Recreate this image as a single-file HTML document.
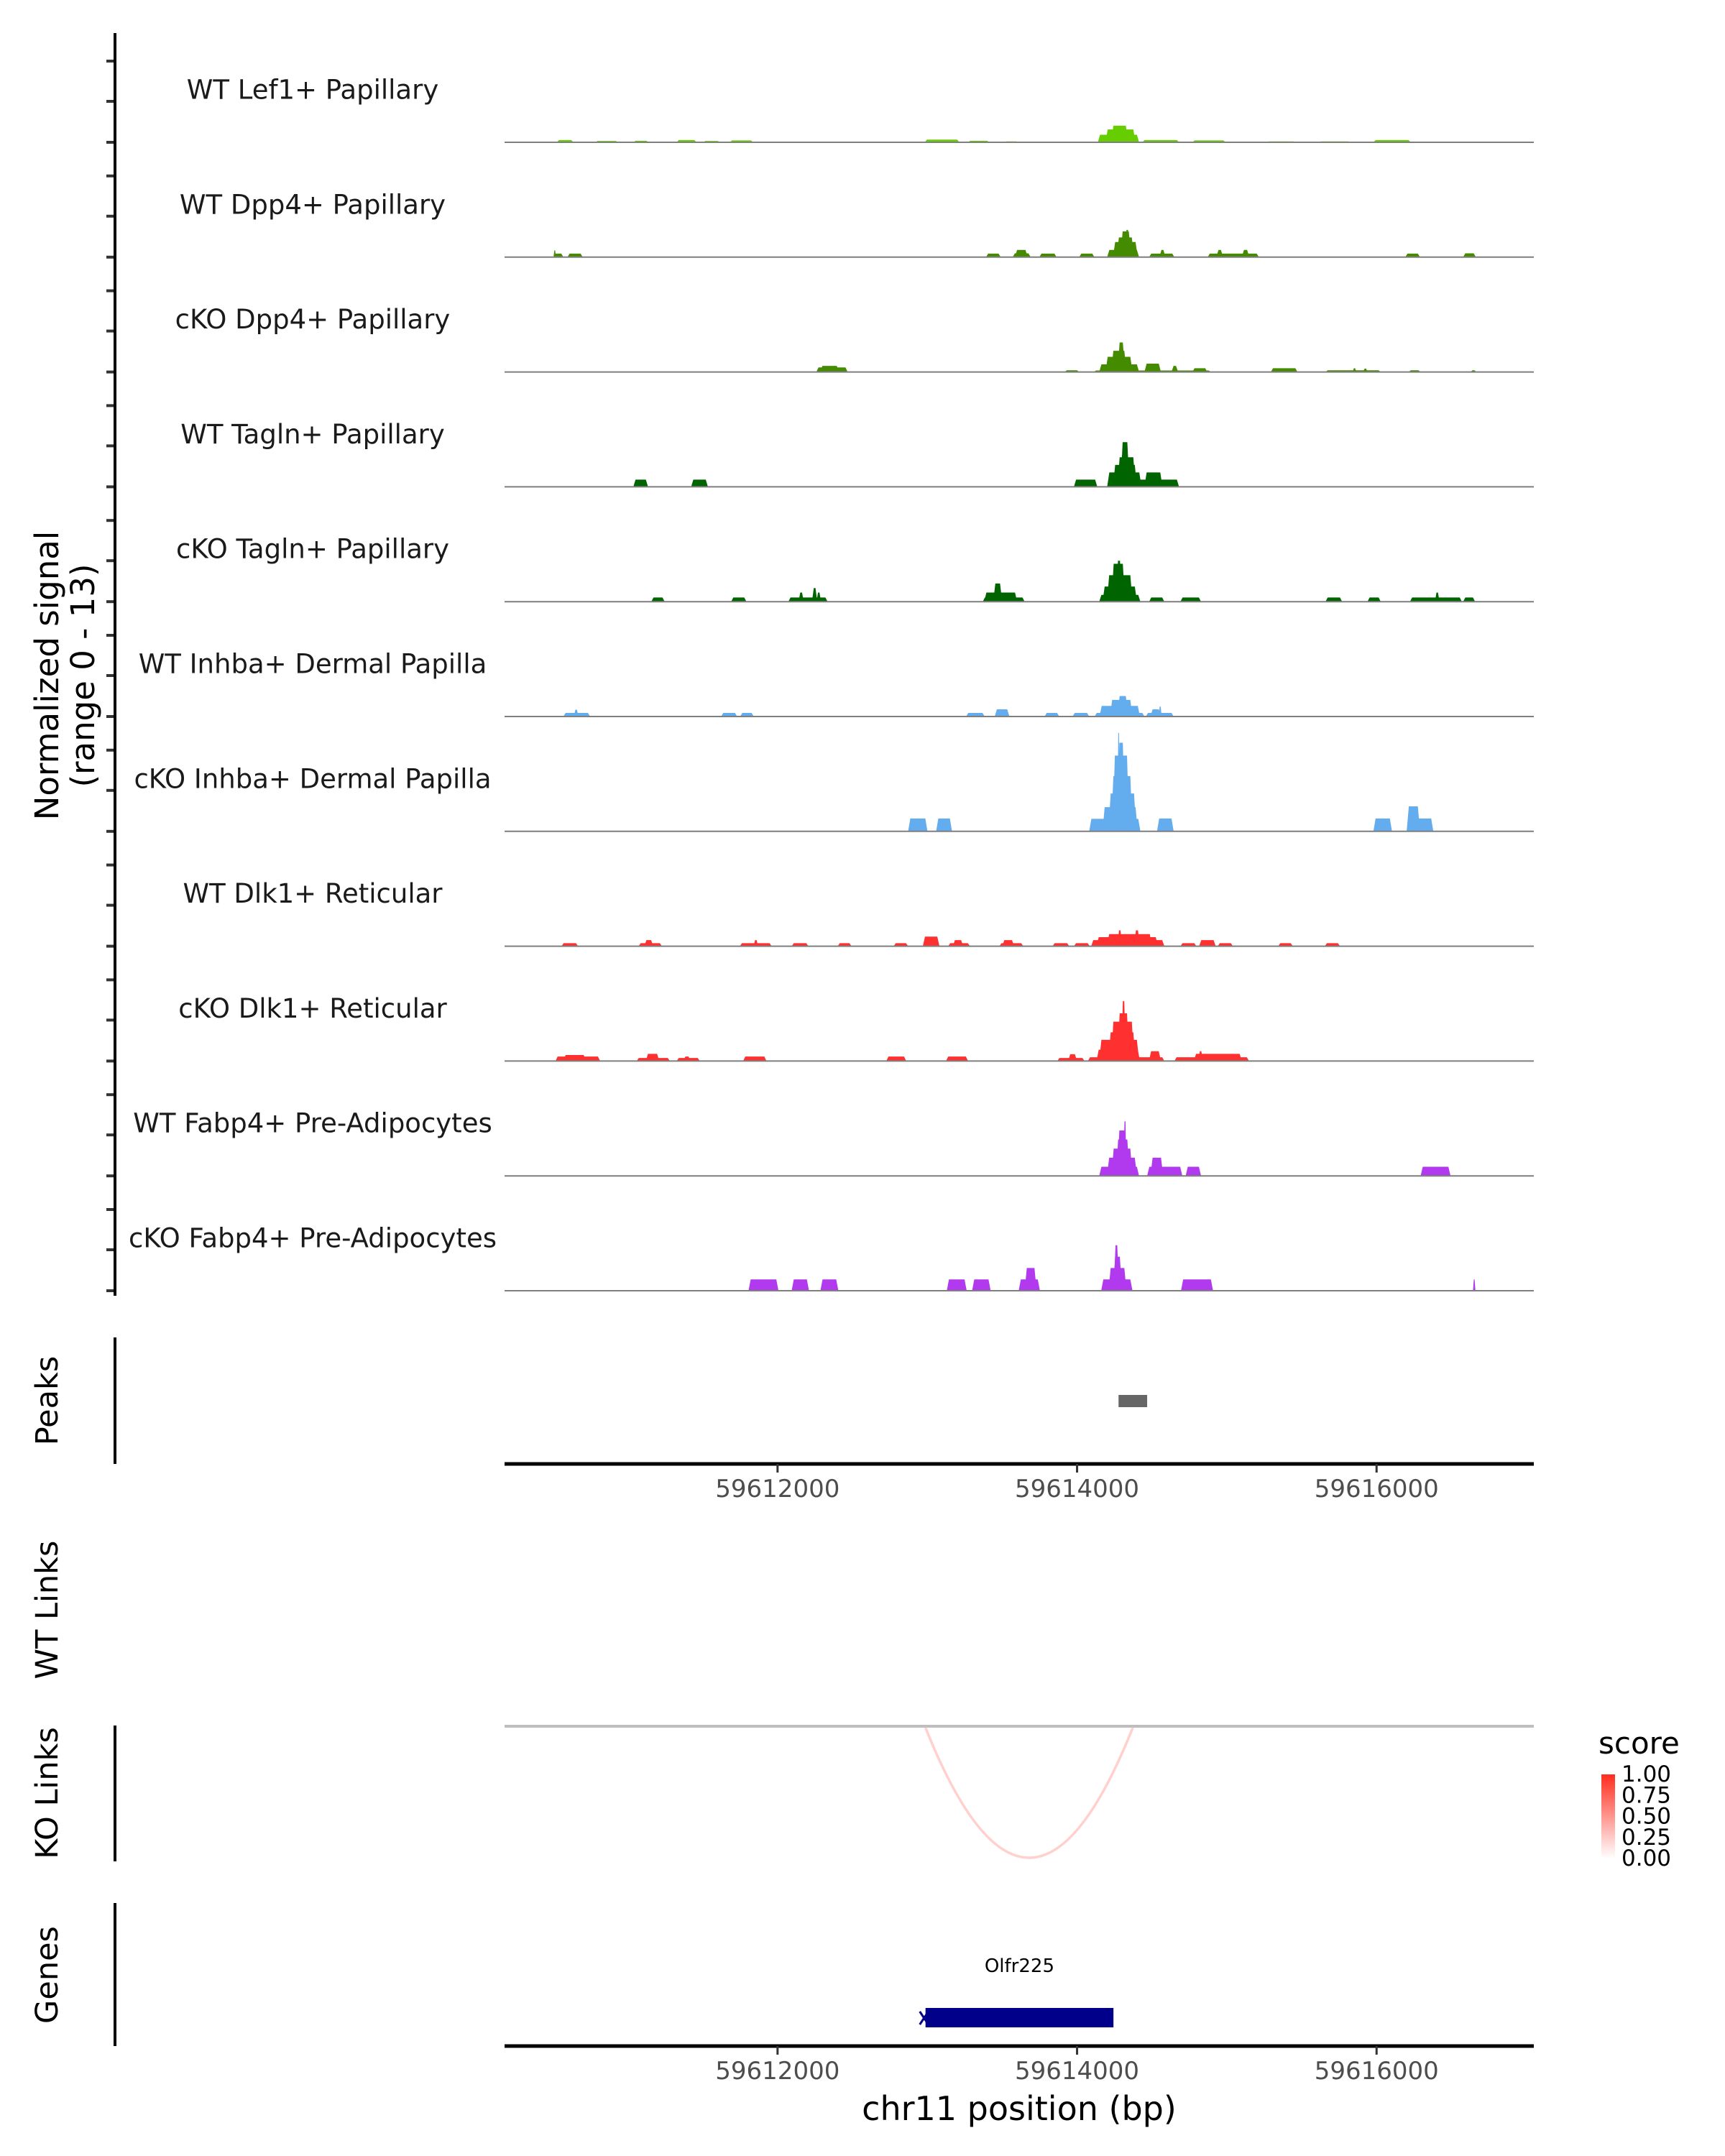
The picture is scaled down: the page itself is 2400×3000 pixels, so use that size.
<!DOCTYPE html>
<html><head><meta charset="utf-8"><style>
html,body{margin:0;padding:0;background:#fff;}
svg{display:block;font-family:"DejaVu Sans","Liberation Sans",sans-serif;}
</style></head><body>
<svg id="chart" xmlns="http://www.w3.org/2000/svg" width="2400" height="3000" viewBox="0 0 2400 3000">
<rect x="0" y="0" width="2400" height="3000" fill="#fff"/>
<g id="tracks"></g>
<g id="axes"></g>
</svg>
<script>
// ---- data (genomic positions are offsets from chromOffset, in bp) ----
const chromOffset = 59610000;
const regionStart = 177, regionEnd = 7050;
const xTicks = [59612000, 59614000, 59616000];
const trackNames = ["WT Lef1+ Papillary","WT Dpp4+ Papillary","cKO Dpp4+ Papillary","WT Tagln+ Papillary","cKO Tagln+ Papillary","WT Inhba+ Dermal Papilla","cKO Inhba+ Dermal Papilla","WT Dlk1+ Reticular","cKO Dlk1+ Reticular","WT Fabp4+ Pre-Adipocytes","cKO Fabp4+ Pre-Adipocytes"];
const trackColors = ["#66cd00","#458b00","#458b00","#006400","#006400","#63acee","#63acee","#ff3030","#ff3030","#b23aee","#b23aee"];
const signalMax = 13;
const wtLef1 = [[526,637,.3],[783,935,.18],[1037,1139,.2],[1326,1459,.3],[1503,1615,.18],[1681,1837,.25],[1895,2214,.1],[2237,2512,.1],[2983,3214,.35],[3272,3414,.2],[3512,3610,.12],[4059,4139,.1],[4139,4414,1.0],[4190,4390,1.7],[4228,4340,2.2],[4436,4681,.3],[4770,4992,.25],[5112,5236,.1],[5267,5459,.12],[5614,5827,.12],[5979,6228,.3],[6290,6392,.1],[6530,6627,.1]];
const wtDpp4 = [[504,570,.47],[504,520,.9],[597,699,.47],[3392,3490,.47],[3570,3690,.5],[3585,3670,.95],[3748,3863,.47],[4014,4116,.47],[4201,4414,.95],[4240,4405,2.0],[4265,4380,2.6],[4290,4360,3.4],[4320,4350,3.6],[4481,4650,.47],[4550,4590,.95],[4872,5214,.47],[4930,4975,.95],[5100,5150,.95],[6192,6290,.47],[6578,6663,.5]];
const ckoDpp4 = [[2259,2468,.6],[2285,2410,.8],[3917,4014,.22],[4112,4894,.2],[4148,4414,1.0],[4190,4370,2.0],[4228,4330,2.8],[4270,4320,3.9],[4450,4560,1.1],[4630,4675,.8],[4770,4870,.5],[5294,5472,.5],[5659,6028,.22],[5840,5865,.5],[5910,5940,.45],[6214,6294,.22],[6627,6667,.22]];
const wtTagln = [[1037,1135,.95],[1423,1535,.95],[3979,4135,.95],[4201,4681,.95],[4201,4430,1.9],[4240,4400,2.9],[4270,4390,3.9],[4290,4350,5.9],[4450,4570,1.9]];
const ckoTagln = [[1157,1246,.55],[1690,1792,.55],[2072,2334,.55],[2140,2175,1.2],[2230,2265,1.8],[2260,2290,1.2],[3370,3650,.55],[3380,3600,1.2],[3440,3500,2.4],[4148,4423,.9],[4170,4400,2.0],[4200,4370,3.5],[4230,4320,5.0],[4260,4300,5.4],[4481,4583,.55],[4690,4828,.55],[5659,5770,.55],[5939,6028,.55],[6223,6570,.55],[6390,6420,1.2],[6578,6658,.55]];
const wtInhba = [[570,748,.47],[640,670,.9],[1623,1730,.47],[1750,1841,.47],[3259,3383,.47],[3450,3548,.95],[3783,3881,.47],[3970,4081,.47],[4117,4450,.47],[4150,4420,1.4],[4220,4370,2.2],[4270,4340,2.7],[4459,4645,.47],[4490,4560,.95],[4545,4565,1.3]];
const ckoInhba = [[2872,3001,1.7],[3059,3165,1.7],[4081,4423,1.65],[4170,4405,3.2],[4210,4395,5],[4228,4370,7.3],[4238,4348,10],[4268,4320,11.7],[4270,4285,13],[4534,4645,1.7],[5979,6103,1.7],[6201,6379,1.7],[6201,6290,3.3]];
const wtDlk1 = [[557,668,.4],[1072,1228,.4],[1110,1170,.8],[1748,1961,.4],[1840,1870,.8],[2094,2206,.4],[2401,2494,.4],[2775,2872,.4],[2970,3081,1.27],[3139,3285,.4],[3170,3240,.8],[3481,3641,.4],[3500,3580,.8],[3836,3948,.4],[3979,4085,.4],[4094,4583,.8],[4130,4540,1.2],[4200,4500,1.6],[4270,4300,2.1],[4380,4420,2.1],[4690,4797,.4],[4815,4926,.8],[4939,5041,.4],[5343,5441,.4],[5654,5756,.4]];
const ckoDlk1 = [[517,815,.6],[570,720,.8],[1059,1281,.4],[1120,1210,.95],[1326,1481,.4],[1370,1420,.6],[1770,1926,.6],[2726,2859,.6],[3125,3272,.6],[3868,4050,.4],[3940,4000,.9],[4072,4583,.5],[4130,4420,1.5],[4148,4414,2.8],[4210,4390,3.8],[4228,4380,5.2],[4270,4348,6.3],[4296,4325,7.9],[4480,4560,1.3],[4650,5148,.5],[4780,5100,.95],[4810,4840,1.3]];
const wtFabp4 = [[4148,4414,1.2],[4200,4400,2.4],[4230,4370,3.6],[4260,4350,4.8],[4268,4330,6.0],[4310,4330,7.2],[4468,4703,1.2],[4490,4575,2.4],[4725,4828,1.2],[6294,6494,1.2]];
const ckoFabp4 = [[1806,2006,1.5],[2094,2210,1.5],[2286,2406,1.5],[3130,3263,1.5],[3299,3423,1.5],[3610,3752,1.5],[3650,3730,3.0],[4161,4370,1.5],[4210,4330,3.0],[4240,4300,4.5],[4245,4280,6.0],[4694,4908,1.5],[6644,6660,1.5]];
const trackData = [wtLef1,wtDpp4,ckoDpp4,wtTagln,ckoTagln,wtInhba,ckoInhba,wtDlk1,ckoDlk1,wtFabp4,ckoFabp4];
const peakStarts = [4277], peakEnds = [4468];
const linkStarts = [2988], linkEnds = [4372], linkScores = [0.25];
const geneNames = ["Olfr225"], geneStarts = [2988], geneEnds = [4243];
const legendTicks = ["1.00","0.75","0.50","0.25","0.00"];

// ---- layout ----
const NS = "http://www.w3.org/2000/svg";
const X0 = 702, X1 = 2134;
const base0 = 198, trackStep = 159.8, pxPerUnit = 137 / signalMax;
function xs(off){ return X0 + (off - regionStart) / (regionEnd - regionStart) * (X1 - X0); }
function xAbs(bp){ return xs(bp - chromOffset); }
function ys(v, base){ return base - v * pxPerUnit; }
function mk(tag, attrs, parent, text){
  const e = document.createElementNS(NS, tag);
  for (const k in attrs) e.setAttribute(k, attrs[k]);
  if (text !== undefined) e.textContent = text;
  parent.appendChild(e);
  return e;
}
const gT = document.getElementById('tracks');
const gA = document.getElementById('axes');

const yl = mk('line',{x1:160,y1:46,x2:160,y2:1803,stroke:'#000','stroke-width':4},gA);



trackNames.forEach((name, i) => {
  const base = base0 + trackStep * i;
  const g = mk('g', {}, gT);
  
  
  [0, 57, 113].forEach(d => {
    const t = mk('line',{x1:148,y1:base-d,x2:160,y2:base-d,stroke:'#333','stroke-width':4},g);
    
    
  });
  const lab = mk('text',{x:435,y:base-71,'font-size':37,'text-anchor':'middle','dominant-baseline':'middle',fill:'#1a1a1a'},g,name);
  
  
  trackData[i].forEach(b => {
    const xa = xs(b[0]), xb = xs(b[1]), yt = ys(b[2], base);
    const sl = Math.min(3, (xb - xa) / 3);
    const p = mk('polygon',{points:`${xa},${base} ${xa+sl},${yt} ${xb-sl},${yt} ${xb},${base}`,fill:trackColors[i]},g);
    
    
  });
  const bl = mk('line',{x1:X0,y1:base,x2:X1,y2:base,stroke:'#7f7f7f','stroke-width':2},g);
  
  
});

const yt = mk('text',{transform:'translate(91,940) rotate(-90)','font-size':45,'text-anchor':'middle',fill:'#000'},gA);


mk('tspan',{x:0,y:-10},yt,'Normalized signal');
mk('tspan',{x:0,y:40},yt,'(range 0 - 13)');

function sideLabel(text, cy, name){
  const t = mk('text',{transform:`translate(80,${cy}) rotate(-90)`,'font-size':43,'text-anchor':'middle',fill:'#000'},gA,text);
  
  
}
function vline(y1,y2,name){
  const l = mk('line',{x1:160,y1:y1,x2:160,y2:y2,stroke:'#000','stroke-width':4},gA);
  
  
}
function xAxis(y, name){
  const g = mk('g',{},gA);
  
  
  mk('line',{x1:X0,y1:y,x2:X1,y2:y,stroke:'#000','stroke-width':5},g);
  xTicks.forEach(t => {
    const x = xAbs(t);
    mk('line',{x1:x,y1:y,x2:x,y2:y+12,stroke:'#333','stroke-width':3},g);
    const tl = mk('text',{x:x,y:y+46,'font-size':34,'text-anchor':'middle',fill:'#4d4d4d'},g,String(t));
    
    
  });
}

sideLabel('Peaks', 1949, 'peaks-label');
vline(1861, 2037, 'peaks-axis');
peakStarts.forEach((s, i) => {
  const r = mk('rect',{x:xs(s),y:1941,width:xs(peakEnds[i])-xs(s),height:17,fill:'#666'},gA);
  
  
});
xAxis(2037, 'peaks-x-axis');

sideLabel('WT Links', 2240, 'wt-links-label');
sideLabel('KO Links', 2495, 'ko-links-label');
vline(2401, 2590, 'ko-links-axis');
const ll = mk('line',{x1:X0,y1:2402,x2:X1,y2:2402,stroke:'#bebebe','stroke-width':4},gA);


function scoreColor(s){
  const r = 255, g = Math.round(255 - s*(255-45)), b = Math.round(255 - s*(255-31));
  return `rgb(${r},${g},${b})`;
}
linkStarts.forEach((s, i) => {
  const xa = xs(s), xb = xs(linkEnds[i]), yb = 2404, depth = 181;
  const a = mk('path',{d:`M${xa},${yb} Q${(xa+xb)/2},${yb+2*depth} ${xb},${yb}`,fill:'none',stroke:scoreColor(0.15+linkScores[i]*0.3),'stroke-width':3.5},gA);
  
  
});

const lg = mk('g',{},gA);


const defs = mk('defs',{},lg);
const grad = mk('linearGradient',{id:'sg',x1:0,y1:0,x2:0,y2:1},defs);
mk('stop',{offset:'0','stop-color':'#ff2d1f'},grad);
mk('stop',{offset:'1','stop-color':'#ffffff'},grad);
mk('text',{x:2224,y:2440,'font-size':42,fill:'#000'},lg,'score');
mk('rect',{x:2228,y:2469,width:19,height:117,fill:'url(#sg)'},lg);
legendTicks.forEach((t, i) => {
  const y = 2469 + i * 117 / 4;
  mk('text',{x:2256,y:y+10,'font-size':31,fill:'#000'},lg,t);
});

sideLabel('Genes', 2748, 'genes-label');
vline(2648, 2847, 'genes-axis');
geneNames.forEach((n, i) => {
  const xa = xs(geneStarts[i]), xb = xs(geneEnds[i]);
  const gl = mk('text',{x:(xa+xb)/2,y:2744,'font-size':26,'text-anchor':'middle',fill:'#000'},gA,n);
  
  
  const gr = mk('rect',{x:xa,y:2794,width:xb-xa,height:27,fill:'#00008b'},gA);
  
  
  const ar = mk('path',{d:`M${xa-8},${2799} L${xa+4},${2817} M${xa-8},${2817} L${xa+4},${2799}`,fill:'none',stroke:'#00008b','stroke-width':3},gA);
  
  
});
xAxis(2847, 'genes-x-axis');
const xt = mk('text',{x:(X0+X1)/2,y:2950,'font-size':46,'text-anchor':'middle',fill:'#000'},gA,'chr11 position (bp)');


</script>
</body></html>
